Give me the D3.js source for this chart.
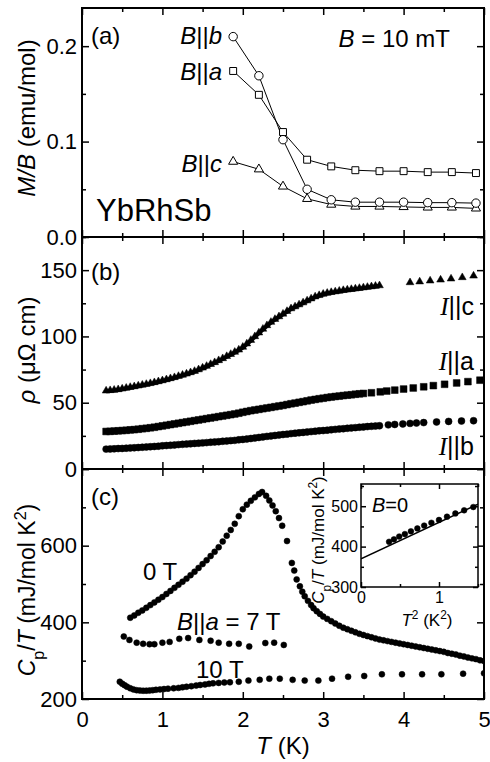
<!DOCTYPE html>
<html>
<head>
<meta charset="utf-8">
<script src="https://cdn.jsdelivr.net/npm/d3@7"></script>
<style>
body { margin: 0; background: #fff; }
svg { display: block; }
text { font-family: "Liberation Sans", Arial, sans-serif; fill: #000; }
</style>
</head>
<body>
<svg width="490" height="762"></svg>
<script>
// ---- panel (a): M/B at B = 10 mT
var tempA = [1.88, 2.2, 2.5, 2.8, 3.1, 3.4, 3.7, 4.0, 4.3, 4.6, 4.9];
var mbParB = [0.210, 0.169, 0.102, 0.050, 0.039, 0.0365, 0.0365, 0.0365, 0.036, 0.036, 0.0355];
var mbParA = [0.174, 0.149, 0.110, 0.081, 0.074, 0.070, 0.069, 0.069, 0.068, 0.068, 0.067];
var mbParC = [0.079, 0.071, 0.053, 0.040, 0.034, 0.032, 0.032, 0.0315, 0.031, 0.031, 0.030];

// ---- panel (b): resistivity [T, rho]
var rhoParC = [[0.30,59.0],[0.35,59.3],[0.40,59.6],[0.45,60.0],[0.50,60.5],[0.55,61.1],[0.60,61.7],[0.65,62.2],[0.70,62.8],[0.75,63.4],
  [0.80,64.0],[0.85,64.6],[0.90,65.3],[0.95,66.0],[1.00,66.7],[1.05,67.5],[1.10,68.3],[1.15,69.1],[1.20,70.0],[1.25,70.9],
  [1.30,71.8],[1.35,72.8],[1.40,73.8],[1.45,75.0],[1.50,76.3],[1.55,77.6],[1.60,79.0],[1.65,80.4],[1.70,81.9],[1.75,83.4],
  [1.80,85.0],[1.85,86.6],[1.90,88.2],[1.95,89.9],[2.00,92.0],[2.05,94.5],[2.10,97.2],[2.15,100.0],[2.20,102.8],[2.25,105.6],
  [2.30,108.3],[2.35,110.8],[2.40,113.0],[2.45,115.0],[2.50,117.0],[2.55,119.0],[2.60,121.0],[2.65,122.5],[2.70,124.0],[2.75,125.5],
  [2.80,127.0],[2.85,128.5],[2.90,130.0],[2.95,131.0],[3.00,132.0],[3.05,132.7],[3.10,133.3],[3.15,133.8],[3.20,134.3],[3.25,134.8],
  [3.30,135.2],[3.35,135.6],[3.40,136.0],[3.45,136.4],[3.50,136.8],[3.55,137.2],[3.60,137.6],[3.65,138.0],[3.70,138.4],
  [4.08,140.7],[4.20,141.3],[4.33,142.0],[4.46,142.7],[4.59,143.5],[4.73,144.5],[4.87,145.7]];
var rhoParA = [[0.30,28.3],[0.35,28.4],[0.40,28.6],[0.45,28.8],[0.50,29.0],[0.55,29.2],[0.60,29.5],[0.65,29.7],[0.70,30.0],[0.75,30.4],
  [0.80,30.7],[0.85,31.1],[0.90,31.5],[0.95,32.0],[1.00,32.5],[1.05,33.0],[1.10,33.5],[1.15,34.0],[1.20,34.5],[1.25,35.0],
  [1.30,35.5],[1.35,36.0],[1.40,36.5],[1.45,37.0],[1.50,37.5],[1.55,38.0],[1.60,38.5],[1.65,39.0],[1.70,39.5],[1.75,40.0],
  [1.80,40.5],[1.85,41.0],[1.90,41.5],[1.95,42.1],[2.00,42.8],[2.05,43.4],[2.10,44.0],[2.15,44.5],[2.20,45.0],[2.25,45.5],
  [2.30,46.0],[2.35,46.5],[2.40,47.0],[2.45,47.5],[2.50,48.0],[2.55,48.6],[2.60,49.2],[2.65,49.7],[2.70,50.3],[2.75,50.8],
  [2.80,51.4],[2.85,52.0],[2.90,52.5],[2.95,53.0],[3.00,53.4],[3.05,53.9],[3.10,54.3],[3.15,54.7],[3.20,55.0],[3.25,55.4],
  [3.30,55.7],[3.35,56.0],[3.40,56.4],[3.45,56.7],[3.50,57.0],
  [3.60,57.5],[3.71,58.2],[3.79,58.8],[3.89,59.5],[4.00,60.3],[4.12,61.1],[4.25,62.0],[4.37,62.9],[4.51,63.9],[4.66,64.9],[4.80,65.9],[4.95,67.0]];
var rhoParB = [[0.30,15.0],[0.35,15.1],[0.40,15.2],[0.45,15.4],[0.50,15.5],[0.55,15.7],[0.60,15.9],[0.65,16.0],[0.70,16.2],[0.75,16.4],
  [0.80,16.6],[0.85,16.8],[0.90,17.0],[0.95,17.2],[1.00,17.5],[1.05,17.7],[1.10,17.9],[1.15,18.1],[1.20,18.4],[1.25,18.6],
  [1.30,18.8],[1.35,19.0],[1.40,19.3],[1.45,19.5],[1.50,19.7],[1.55,19.9],[1.60,20.2],[1.65,20.4],[1.70,20.6],[1.75,20.9],
  [1.80,21.1],[1.85,21.4],[1.90,21.6],[1.95,22.0],[2.00,22.3],[2.05,22.6],[2.10,23.0],[2.15,23.4],[2.20,23.8],[2.25,24.2],
  [2.30,24.6],[2.35,24.9],[2.40,25.3],[2.45,25.6],[2.50,26.0],[2.55,26.3],[2.60,26.7],[2.65,27.0],[2.70,27.3],[2.75,27.6],
  [2.80,27.9],[2.85,28.2],[2.90,28.5],[2.95,28.8],[3.00,29.0],[3.05,29.3],[3.10,29.6],[3.15,29.9],[3.20,30.2],[3.25,30.4],
  [3.30,30.7],[3.35,31.0],[3.40,31.2],[3.45,31.5],[3.50,31.7],[3.55,32.0],[3.60,32.2],[3.65,32.4],[3.70,32.6],
  [3.81,33.3],[3.89,33.6],[3.99,34.0],[4.08,34.4],[4.16,34.7],[4.25,35.0],[4.41,35.5],[4.56,35.9],[4.72,36.2],[4.87,36.4]];

// ---- panel (c): specific heat Cp/T [T, mJ/mol K^2]
var cp0T = [[0.60,412],[0.65,418],[0.70,425],[0.75,431],[0.80,438],[0.85,445],[0.90,452],[0.95,459],[1.00,466],[1.05,474],
  [1.10,482],[1.15,490],[1.20,498],[1.25,506],[1.30,514],[1.35,523],[1.40,532],[1.45,542],[1.50,552],[1.55,562],
  [1.60,573],[1.65,584],[1.70,596],[1.75,611],[1.80,626],[1.85,641],[1.90,657],[1.95,677],[2.00,695],[2.05,707],
  [2.10,717],[2.15,726],[2.20,735],[2.24,740],[2.29,730],[2.33,718],[2.37,705],[2.41,690],[2.45,672],[2.49,652],
  [2.55,612],[2.61,555],[2.64,535],[2.67,512],[2.71,494],[2.74,480],[2.77,468],[2.81,456],[2.85,445],[2.88,437],
  [2.92,429],[2.96,422],[3.00,415],[3.05,409],[3.10,403],[3.15,397],[3.20,391],[3.25,386],[3.30,382],[3.35,378],
  [3.40,374],[3.45,370],[3.50,367],[3.55,364],[3.60,361],[3.65,358],[3.70,355],[3.75,353],[3.80,351],[3.85,349],
  [3.90,347],[3.95,345],[4.00,343],[4.05,341],[4.10,339],[4.15,337],[4.20,335],[4.25,333],[4.30,331],[4.35,329],
  [4.40,327],[4.45,325],[4.50,323],[4.55,320],[4.60,318],[4.65,316],[4.70,313],[4.75,311],[4.80,308],[4.85,306],
  [4.90,304],[4.95,301],[5.00,299]];
var cp7T = [[0.52,363],[0.59,354],[0.68,347],[0.76,344],[0.84,343],[0.90,343],[1.00,347],[1.09,349],[1.21,357],[1.32,359],
  [1.46,354],[1.60,352],[1.70,347],[1.83,344],[1.95,344],[2.08,337],[2.28,346],[2.39,347],[2.51,341]];
var cp10T = [[0.47,245],[0.50,240],[0.53,236],[0.56,232],[0.60,228],[0.64,225],[0.68,223],[0.72,222],[0.76,221.5],[0.80,221.8],
  [0.84,222],[0.88,223],[0.92,224],[0.97,225],[1.02,226],[1.07,227],[1.14,228],[1.20,229],[1.25,230.5],[1.30,232],
  [1.36,233.5],[1.42,235],[1.47,236.6],[1.53,238],[1.58,239.5],[1.63,241],[1.70,242],[1.77,243],[1.84,243.6],[1.95,245],
  [2.07,248],[2.21,250],[2.33,253],[2.46,253],[2.62,250],[2.77,248],[2.94,248],[3.11,253],[3.31,258],[3.51,260],
  [3.73,264.5],[3.98,264.5],[4.23,264.5],[4.47,264.5],[4.74,266],[5.00,267]];
// inset: linear fit of Cp/T vs T^2 at B = 0
var insetFit = [[0, 370], [1.5, 505]];

// ---- ticks
var xMajor = [0, 1, 2, 3, 4, 5];
var xMinor = [0.5, 1.5, 2.5, 3.5, 4.5];
var aMajor = [0, 0.1, 0.2], aMinor = [0.05, 0.15];
var bMajor = [0, 50, 100, 150], bMinor = [25, 75, 125, 175];
var cMajor = [200, 400, 600, 800], cMinor = [300, 500, 700];
var iXMajor = [0, 1], iXMinor = [0.5, 1.5];
var iYMajor = [300, 400, 500], iYMinor = [350, 450, 550];

var svg = d3.select('svg');
var x = d3.scaleLinear().domain([0, 5]).range([82, 484]);
var ya = d3.scaleLinear().domain([0, 0.24]).range([237, 8]);
var yb = d3.scaleLinear().domain([0, 175]).range([469, 237]);
var yc = d3.scaleLinear().domain([200, 800]).range([699, 469]);
var xi = d3.scaleLinear().domain([0, 1.5]).range([361, 478]);
var yi = d3.scaleLinear().domain([300, 555]).range([587, 484]);

function styleAxis(g, fs) {
    g.select('.domain').remove();
    g.selectAll('line').attr('stroke', '#000').attr('stroke-width', 1.5);
    g.selectAll('text').style('font-size', fs + 'px').attr('fill', '#000');
}

function frame(xs, ys, o) {
    var x0 = xs.range()[0], x1 = xs.range()[1];
    var y0 = ys.range()[0], y1 = ys.range()[1];
    var g = svg.append('g');
    var big = o.big, small = o.small, fs = o.fs;
    g.append('g').attr('transform', 'translate(0,' + y0 + ')')
        .call(d3.axisBottom(xs).tickValues(o.xMajor).tickSize(-big).tickPadding(o.xPad)
            .tickFormat(o.xLabels ? d3.format('d') : ''))
        .call(styleAxis, fs);
    g.append('g').attr('transform', 'translate(0,' + y0 + ')')
        .call(d3.axisBottom(xs).tickValues(o.xMinor).tickSize(-small).tickFormat(''))
        .call(styleAxis, fs);
    g.append('g').attr('transform', 'translate(0,' + y1 + ')')
        .call(d3.axisTop(xs).tickValues(o.xMajor).tickSize(-big).tickFormat(''))
        .call(styleAxis, fs);
    g.append('g').attr('transform', 'translate(0,' + y1 + ')')
        .call(d3.axisTop(xs).tickValues(o.xMinor).tickSize(-small).tickFormat(''))
        .call(styleAxis, fs);
    g.append('g').attr('transform', 'translate(' + x0 + ',0)')
        .call(d3.axisLeft(ys).tickValues(o.yMajor).tickSize(-big).tickPadding(o.yPad).tickFormat(o.yFmt))
        .call(styleAxis, fs);
    g.append('g').attr('transform', 'translate(' + x0 + ',0)')
        .call(d3.axisLeft(ys).tickValues(o.yMinor).tickSize(-small).tickFormat(''))
        .call(styleAxis, fs);
    g.append('g').attr('transform', 'translate(' + x1 + ',0)')
        .call(d3.axisRight(ys).tickValues(o.yMajor).tickSize(-big).tickFormat(''))
        .call(styleAxis, fs);
    g.append('g').attr('transform', 'translate(' + x1 + ',0)')
        .call(d3.axisRight(ys).tickValues(o.yMinor).tickSize(-small).tickFormat(''))
        .call(styleAxis, fs);
    g.append('rect').attr('x', x0).attr('y', y1).attr('width', x1 - x0).attr('height', y0 - y1)
        .attr('fill', 'none').attr('stroke', '#000').attr('stroke-width', o.sw);
    // clip for data
    var id = 'clip' + Math.round(y1);
    svg.append('clipPath').attr('id', id).append('rect')
        .attr('x', x0).attr('y', y1).attr('width', x1 - x0).attr('height', y0 - y1);
    return svg.append('g').attr('clip-path', 'url(#' + id + ')');
}

function symbols(g, data, xs, ys, type, size, fill, sw) {
    g.selectAll(null).data(data).enter().append('path')
        .attr('d', d3.symbol().type(type).size(size))
        .attr('transform', function(d) { return 'translate(' + xs(d[0]) + ',' + ys(d[1]) + ')'; })
        .attr('fill', fill).attr('stroke', '#000').attr('stroke-width', sw);
}

function label(x0, y0, parts, fs, anchor) {
    var t = svg.append('text').attr('x', x0).attr('y', y0).style('font-size', fs + 'px')
        .attr('text-anchor', anchor || 'start');
    parts.forEach(function(p) {
        var s = t.append('tspan').text(p.t);
        if (p.i) s.style('font-style', 'italic');
        if (p.serif) s.style('font-family', '"Liberation Serif", "Times New Roman", serif');
        if (p.sub) s.attr('baseline-shift', 'sub').style('font-size', (fs * 0.7) + 'px');
        if (p.sup) s.attr('baseline-shift', 'super').style('font-size', (fs * 0.7) + 'px');
    });
    return t;
}

// ---- panel (a)
var ga = frame(x, ya, { xMajor: xMajor, xMinor: xMinor, yMajor: aMajor, yMinor: aMinor,
    yFmt: d3.format('.1f'), xLabels: false, big: 7, small: 4, fs: 22, xPad: 12, yPad: 5, sw: 2 });
var seriesA = [[mbParA, d3.symbolSquare, 48], [mbParC, d3.symbolTriangle, 36], [mbParB, d3.symbolCircle, 56]];
var lineA = d3.line().x(function(d, i) { return x(tempA[i]); }).y(function(d) { return ya(d); });
seriesA.forEach(function(s) {
    ga.append('path').attr('d', lineA(s[0])).attr('fill', 'none').attr('stroke', '#000').attr('stroke-width', 1);
});
seriesA.forEach(function(s) {
    symbols(ga, s[0].map(function(v, i) { return [tempA[i], v]; }), x, ya, s[1], s[2], '#fff', 1);
});

// ---- panel (b)
var gb = frame(x, yb, { xMajor: xMajor, xMinor: xMinor, yMajor: bMajor, yMinor: bMinor,
    yFmt: d3.format('d'), xLabels: false, big: 7, small: 4, fs: 22, xPad: 12, yPad: 5, sw: 2 });
// the dense low-T part of I||c is a continuous band of triangles
gb.append('path')
    .attr('d', d3.line().x(function(d) { return x(d[0]); }).y(function(d) { return yb(d[1]) + 0.5; })(rhoParC.filter(function(d) { return d[0] <= 3.7; })))
    .attr('fill', 'none').attr('stroke', '#000').attr('stroke-width', 4);
symbols(gb, rhoParC, x, yb, d3.symbolTriangle, 26, '#000', 0.5);
symbols(gb, rhoParA, x, yb, d3.symbolSquare, 46, '#000', 0.5);
symbols(gb, rhoParB, x, yb, d3.symbolCircle, 38, '#000', 0.5);

// ---- panel (c)
var gc = frame(x, yc, { xMajor: xMajor, xMinor: xMinor, yMajor: cMajor, yMinor: cMinor,
    yFmt: function(d) { return d === 800 ? '' : d; }, xLabels: true, big: 7, small: 4, fs: 22, xPad: 12, yPad: 5, sw: 2 });
symbols(gc, cp0T, x, yc, d3.symbolCircle, 28, '#000', 0.5);
symbols(gc, cp7T, x, yc, d3.symbolCircle, 28, '#000', 0.5);
symbols(gc, cp10T, x, yc, d3.symbolCircle, 28, '#000', 0.5);

// ---- inset
svg.append('rect').attr('x', 361).attr('y', 484).attr('width', 117).attr('height', 103).attr('fill', '#fff');
var gi = frame(xi, yi, { xMajor: iXMajor, xMinor: iXMinor, yMajor: iYMajor, yMinor: iYMinor,
    yFmt: d3.format('d'), xLabels: true, big: 5, small: 3, fs: 16, xPad: 5, yPad: 3, sw: 1.5 });
gi.append('path').attr('d', d3.line().x(function(d) { return xi(d[0]); }).y(function(d) { return yi(d[1]); })(insetFit))
    .attr('fill', 'none').attr('stroke', '#000').attr('stroke-width', 1.5);
symbols(gi, cp0T.filter(function(d) { return d[0] * d[0] <= 1.55; }).map(function(d) { return [d[0] * d[0], d[1]]; }),
    xi, yi, d3.symbolCircle, 26, '#000', 0.5);

// ---- text
label(91, 44, [{ t: '(a)' }], 24);
label(91, 280, [{ t: '(b)' }], 24);
label(91, 505, [{ t: '(c)' }], 24);
label(222, 44, [{ t: 'B', i: 1 }, { t: '||' }, { t: 'b', i: 1 }], 24, 'end');
label(222, 80, [{ t: 'B', i: 1 }, { t: '||' }, { t: 'a', i: 1 }], 24, 'end');
label(222, 172, [{ t: 'B', i: 1 }, { t: '||' }, { t: 'c', i: 1 }], 24, 'end');
label(450, 47, [{ t: 'B', i: 1 }, { t: ' = 10 mT' }], 24, 'end');
label(96, 221, [{ t: 'YbRhSb' }], 31);
label(474, 315, [{ t: 'I', i: 1, serif: 1 }, { t: '||c' }], 25, 'end');
label(474, 370, [{ t: 'I', i: 1, serif: 1 }, { t: '||a' }], 25, 'end');
label(474, 455, [{ t: 'I', i: 1, serif: 1 }, { t: '||b' }], 25, 'end');
label(143, 580, [{ t: '0 T' }], 24);
label(177, 630, [{ t: 'B', i: 1 }, { t: '||' }, { t: 'a', i: 1 }, { t: ' = 7 T' }], 24);
label(196, 678, [{ t: '10 T' }], 24);
label(372, 512, [{ t: 'B', i: 1 }, { t: '=0' }], 20);
label(427, 626, [{ t: 'T', i: 1 }, { t: '2', sup: 1 }, { t: ' (K' }, { t: '2', sup: 1 }, { t: ')' }], 17, 'middle');
label(283, 754, [{ t: 'T', i: 1 }, { t: ' (K)' }], 24, 'middle');

label(0, 0, [{ t: 'M/B', i: 1 }, { t: ' (emu/mol)' }], 24, 'middle').attr('transform', 'translate(35,118) rotate(-90)');
label(0, 0, [{ t: 'ρ', i: 1 }, { t: ' (μΩ cm)' }], 24, 'middle').attr('transform', 'translate(35,350) rotate(-90)');
label(0, 0, [{ t: 'C', i: 1 }, { t: 'p', sub: 1 }, { t: '/' }, { t: 'T', i: 1 }, { t: ' (mJ/mol K' }, { t: '2', sup: 1 }, { t: ')' }], 23, 'middle')
    .attr('transform', 'translate(35,590) rotate(-90)');
label(0, 0, [{ t: 'C', i: 1 }, { t: 'p', sub: 1 }, { t: '/' }, { t: 'T', i: 1 }, { t: ' (mJ/mol K' }, { t: '2', sup: 1 }, { t: ')' }], 17, 'middle')
    .attr('transform', 'translate(324,540) rotate(-90)');
</script>
</body>
</html>
